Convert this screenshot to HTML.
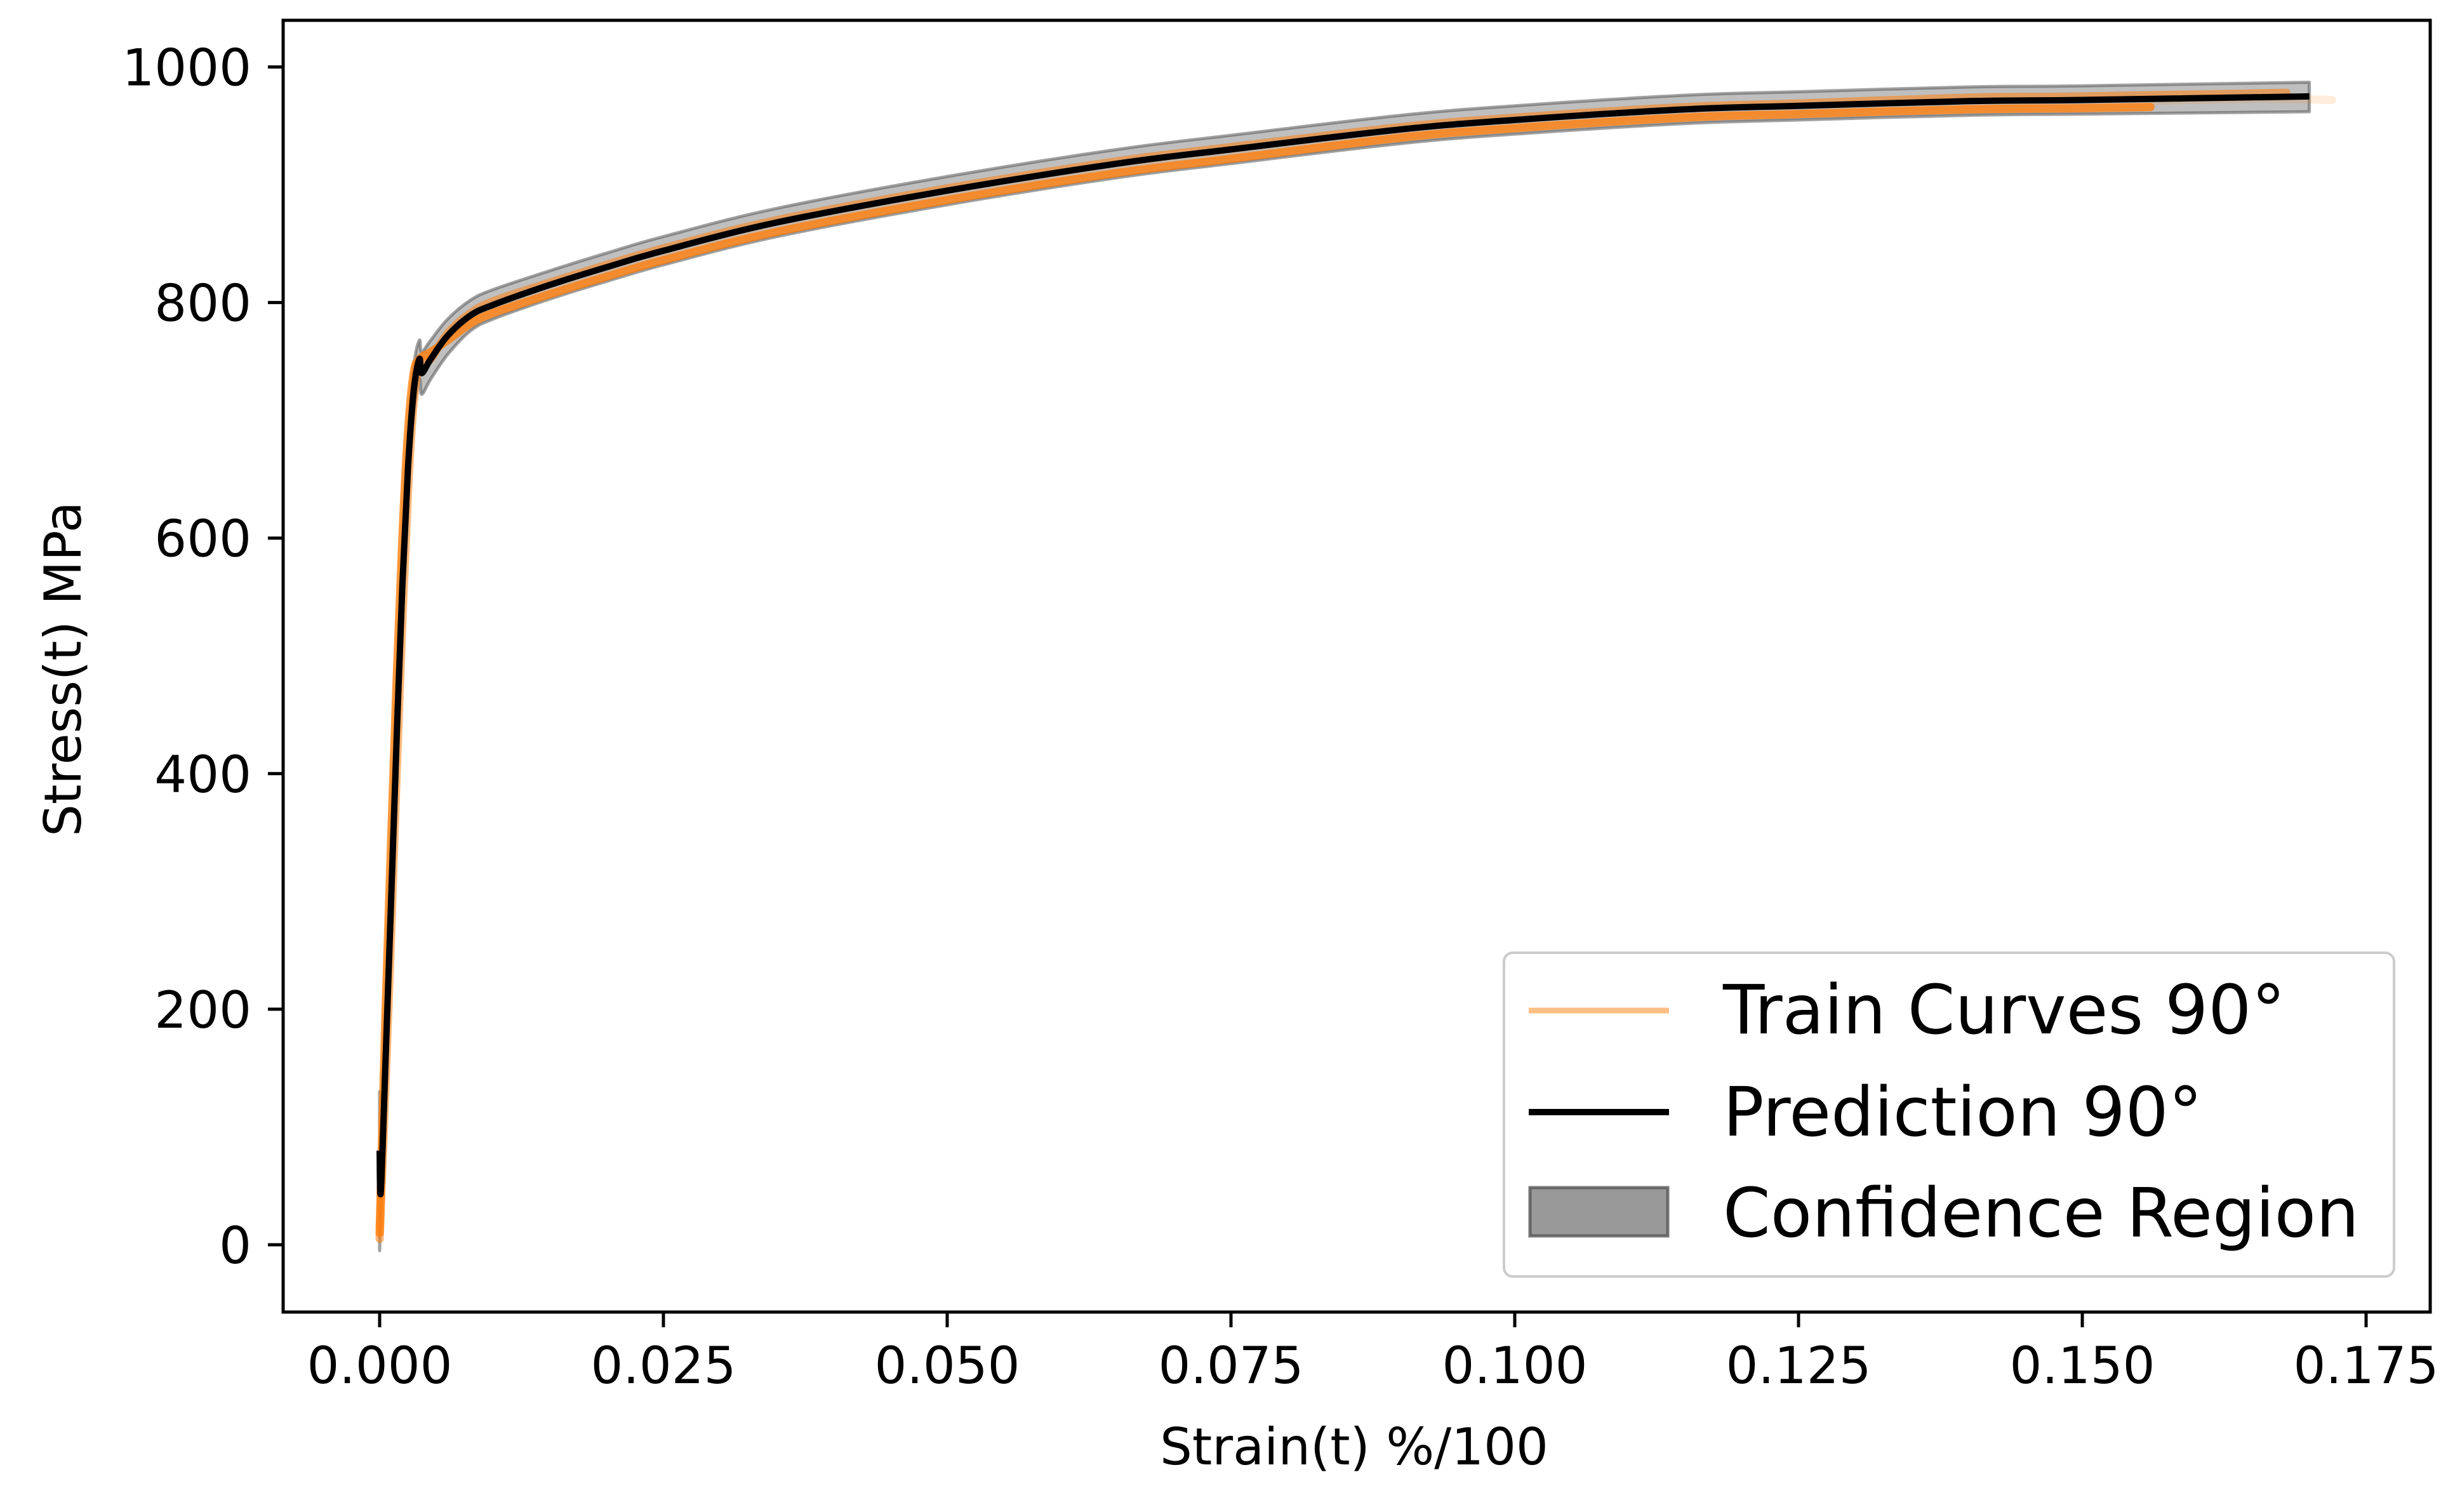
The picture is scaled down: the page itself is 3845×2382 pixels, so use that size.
<!DOCTYPE html>
<html><head><meta charset="utf-8"><style>
html,body{margin:0;padding:0;background:#fff}
svg{display:block}
text{font-family:"DejaVu Sans","Liberation Sans",sans-serif;fill:#000}
</style></head><body>
<svg id="chart" width="3845" height="2382" viewBox="0 0 3845 2382" xmlns="http://www.w3.org/2000/svg">
<rect x="0" y="0" width="3845" height="2382" fill="#fff"/>
<g id="plot"></g>
<g id="axes"></g>
<g id="legend">
  <rect x="2369" y="1501" width="1402" height="510" rx="14" fill="#fff" fill-opacity="0.8" stroke="#cccccc" stroke-width="4"/>
  <line x1="2408" y1="1592" x2="2629" y2="1592" stroke="#ff7f0e" stroke-opacity="0.5" stroke-width="9"/>
  <text x="2714" y="1628" font-size="107">Train Curves 90°</text>
  <line x1="2408" y1="1752" x2="2629" y2="1752" stroke="#000" stroke-width="10"/>
  <text x="2714" y="1789" font-size="107">Prediction 90°</text>
  <rect x="2410" y="1871" width="217" height="76" fill="#808080" fill-opacity="0.8" stroke="#555" stroke-opacity="0.8" stroke-width="5"/>
  <text x="2714" y="1948" font-size="107">Confidence Region</text>
</g>
</svg>
<script>
const strain = [0, 0.0001, 0.0005, 0.001, 0.0015, 0.002, 0.0025, 0.003, 0.0035, 0.0037, 0.0045, 0.006, 0.008, 0.01, 0.015, 0.02, 0.025, 0.035, 0.05, 0.065, 0.075, 0.09, 0.1, 0.115, 0.125, 0.14, 0.15, 0.17];
const prediction = [80, 45, 150, 290, 430, 560, 660, 725, 752, 740, 752, 772, 789, 798, 815, 830, 844, 868, 895, 918, 930, 947, 955, 964, 967, 971, 972, 975];
const bandUpper = [130, 70, 170, 310, 450, 580, 680, 745, 768, 758, 768, 786, 802, 811, 827, 842, 856, 880, 907, 930, 942, 959, 967, 976, 979, 983, 984, 987];
const bandLower = [-5, 25, 130, 270, 410, 540, 640, 705, 735, 722, 735, 756, 776, 786, 803, 818, 832, 856, 883, 906, 918, 935, 943, 952, 955, 959, 960, 962];
const trainStrainA = [0, 0.0005, 0.001, 0.0015, 0.002, 0.0025, 0.003, 0.0035, 0.0045, 0.006, 0.008, 0.01, 0.015, 0.02, 0.025, 0.035, 0.05, 0.065, 0.075, 0.09, 0.1, 0.115, 0.125, 0.14, 0.15, 0.156];
const trainA = [10, 190, 340, 480, 600, 690, 740, 752, 758, 768, 782, 791, 807, 822, 836, 860, 887, 910, 922, 940, 948, 957, 960, 964, 965, 966];
const trainStrainB = [0, 0.0005, 0.001, 0.0015, 0.002, 0.0025, 0.003, 0.0035, 0.0045, 0.006, 0.008, 0.01, 0.015, 0.02, 0.025, 0.035, 0.05, 0.065, 0.075, 0.09, 0.1, 0.115, 0.125, 0.14, 0.15, 0.165, 0.172];
const trainB = [15, 160, 300, 440, 570, 670, 730, 750, 756, 770, 786, 795, 811, 826, 840, 864, 891, 914, 926, 944, 952, 961, 964, 968, 970, 973, 972];
const trainStrainC = [0, 0.0005, 0.001, 0.0015, 0.002, 0.0025, 0.003, 0.0035, 0.0045, 0.006, 0.008, 0.01, 0.015, 0.02, 0.025, 0.035, 0.05, 0.065, 0.075, 0.09, 0.1, 0.115, 0.125, 0.14, 0.15, 0.168];
const trainC = [5, 130, 260, 400, 530, 640, 715, 745, 752, 774, 791, 801, 817, 832, 846, 870, 897, 920, 932, 949, 957, 966, 969, 974, 975, 978];
const xTicks = [0, 0.025, 0.05, 0.075, 0.1, 0.125, 0.15, 0.175];
const xTickLabels = ["0.000", "0.025", "0.050", "0.075", "0.100", "0.125", "0.150", "0.175"];
const yTicks = [0, 200, 400, 600, 800, 1000];
const yTickLabels = ["0", "200", "400", "600", "800", "1000"];

const NS = "http://www.w3.org/2000/svg";
const L = 446, R = 3828, T = 32, B = 2067;
function xs(v){ return 598 + v / 0.025 * 447; }
function ys(v){ return 1961 - v * 1.8555; }
function mk(tag, attrs, parent){ const e = document.createElementNS(NS, tag); for (const k in attrs) e.setAttribute(k, attrs[k]); parent.appendChild(e); return e; }
function smooth(pts, start){
  let d = start ? "M" + pts[0][0].toFixed(1) + "," + pts[0][1].toFixed(1) : "L" + pts[0][0].toFixed(1) + "," + pts[0][1].toFixed(1);
  for (let i = 0; i < pts.length - 1; i++) {
    const p0 = pts[Math.max(0, i-1)], p1 = pts[i], p2 = pts[i+1], p3 = pts[Math.min(pts.length-1, i+2)];
    const c1x = p1[0] + (p2[0]-p0[0])/6, c1y = p1[1] + (p2[1]-p0[1])/6;
    const c2x = p2[0] - (p3[0]-p1[0])/6, c2y = p2[1] - (p3[1]-p1[1])/6;
    d += " C" + c1x.toFixed(1) + "," + c1y.toFixed(1) + " " + c2x.toFixed(1) + "," + c2y.toFixed(1) + " " + p2[0].toFixed(1) + "," + p2[1].toFixed(1);
  }
  return d;
}
function pts(xv, yv){ return xv.map((x,i)=>[xs(x), ys(yv[i])]); }

const plot = document.getElementById("plot");
const axes = document.getElementById("axes");

const up = pts(strain, bandUpper);
const lo = pts(strain, bandLower).reverse();
const d = smooth(up, true) + " " + smooth(lo, false) + " Z";
const band = mk("path", {d: d, fill: "#808080", "fill-opacity": "0.5", stroke: "#555", "stroke-opacity": "0.55", "stroke-width": "5", "stroke-linejoin": "round"}, plot);



const trains = [[trainStrainB, trainB, 0.15], [trainStrainC, trainC, 0.55], [trainStrainA, trainA, 0.8]];
trains.forEach((t) => {
  const p = mk("path", {d: smooth(pts(t[0], t[1]), true), fill: "none", stroke: "#ff7f0e", "stroke-opacity": t[2], "stroke-width": "13", "stroke-linejoin": "round", "stroke-linecap": "round"}, plot);
  
  
});

const pred = mk("path", {d: smooth(pts(strain, prediction), true), fill: "none", stroke: "#000", "stroke-width": "10", "stroke-linejoin": "round"}, plot);



const frame = mk("rect", {x: L, y: T, width: R-L, height: B-T, fill: "none", stroke: "#000", "stroke-width": "5"}, axes);



xTicks.forEach((v, i) => {
  const t = mk("line", {x1: xs(v), y1: B, x2: xs(v), y2: B + 24, stroke: "#000", "stroke-width": "5"}, axes);
  
  
  const lb = mk("text", {x: xs(v), y: B + 112, "font-size": "80", "text-anchor": "middle"}, axes);
  lb.textContent = xTickLabels[i];
  
  
});
yTicks.forEach((v, i) => {
  const t = mk("line", {x1: L - 24, y1: ys(v), x2: L, y2: ys(v), stroke: "#000", "stroke-width": "5"}, axes);
  
  
  const lb = mk("text", {x: L - 50, y: ys(v) + 29, "font-size": "80", "text-anchor": "end"}, axes);
  lb.textContent = yTickLabels[i];
  
  
});
const xl = mk("text", {x: 2133, y: 2307, "font-size": "80", "text-anchor": "middle"}, axes);
xl.textContent = "Strain(t) %/100";


const yl = mk("text", {x: 0, y: 0, "font-size": "80", "text-anchor": "middle", transform: "translate(127,1054) rotate(-90)"}, axes);
yl.textContent = "Stress(t) MPa";


</script>
</body></html>
